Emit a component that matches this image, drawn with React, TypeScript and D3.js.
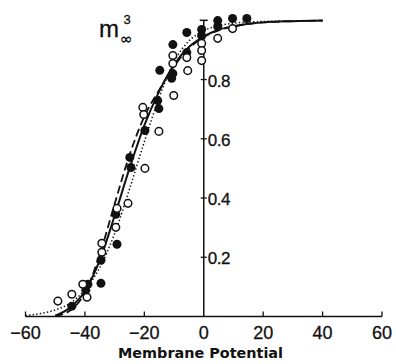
import React from "react";
import * as d3 from "d3";

// Steady-state activation m∞³ versus membrane potential (mV)
const xTicks = [-60, -40, -20, 0, 20, 40, 60];
const yTicks = [0.2, 0.4, 0.6, 0.8];

// Experimental points, filled symbols
const filledV = [-44.4, -39.7, -39.0, -34.6, -34.6, -29.2, -29.6, -24.9, -24.5, -19.8, -15.5, -15.1, -14.8, -10.4, -10.4, -10.8, -5.7, -5.7, -0.7, -0.7, 4.7, 4.7, 9.7, 14.5];
const filledM = [0.035, 0.089, 0.109, 0.112, 0.19, 0.244, 0.345, 0.537, 0.503, 0.628, 0.729, 0.702, 0.831, 0.918, 0.82, 0.804, 0.959, 0.891, 0.969, 0.948, 0.999, 0.979, 1.006, 1.006];

// Experimental points, open symbols
const openV = [-49.1, -44.4, -40.7, -39.3, -34.3, -34.3, -29.2, -29.6, -25.5, -19.8, -20.5, -20.2, -15.1, -10.1, -10.4, -10.4, -5.4, -5.7, -0.7, -0.7, -0.7, 4.7, 9.7];
const openM = [0.052, 0.075, 0.109, 0.065, 0.247, 0.217, 0.365, 0.301, 0.382, 0.5, 0.706, 0.682, 0.625, 0.746, 0.881, 0.854, 0.83, 0.874, 0.922, 0.898, 0.864, 0.939, 0.972];

// Fitted curves
const solidV = [-50, -45, -40, -35, -30, -25, -20, -15, -10, -5, 0, 5, 10, 15, 20, 30, 40];
const solidM = [0.003, 0.03, 0.085, 0.19, 0.34, 0.5, 0.645, 0.76, 0.85, 0.91, 0.945, 0.968, 0.98, 0.988, 0.993, 0.997, 0.999];

const dashedV = [-50, -45, -40, -35, -30, -25, -20, -15, -10, -5, 0, 5, 10, 20, 30, 40];
const dashedM = [0.002, 0.02, 0.08, 0.21, 0.38, 0.545, 0.675, 0.765, 0.845, 0.905, 0.944, 0.966, 0.979, 0.993, 0.997, 0.999];

const dottedV = [-60, -55, -50, -45, -40, -35, -30, -25, -20, -15, -10, -5, 0, 5, 10, 20, 30, 40];
const dottedM = [0.003, 0.01, 0.022, 0.045, 0.09, 0.165, 0.28, 0.43, 0.59, 0.74, 0.86, 0.93, 0.965, 0.982, 0.99, 0.996, 0.998, 0.999];

const W = 396;
const H = 364;
const x = d3.scaleLinear().domain([-60, 60]).range([25.5, 382]);
const y = d3.scaleLinear().domain([0, 1]).range([316.5, 20.3]);

const line = d3
  .line<[number, number]>()
  .x((d) => x(d[0]))
  .y((d) => y(d[1]))
  .curve(d3.curveMonotoneX);

const pairs = (vs: number[], ms: number[]) => vs.map((v, i) => [v, ms[i]] as [number, number]);

const ink = "#111";
const numFont = "'Liberation Sans', Arial, sans-serif";

export default function App() {
  const x0 = x(0);
  return (
    <svg
      width={W}
      height={H}
      viewBox={`0 0 ${W} ${H}`}
      style={{ position: "absolute", left: 0, top: 0, background: "#fff" }}
    >
      {/* x axis */}
      <line x1={x(-60)} x2={x(60)} y1={y(0)} y2={y(0)} stroke={ink} strokeWidth={1.3} />
      {xTicks.map((t) => (
        <g key={t}>
          {t !== 0 && (
            <line x1={x(t)} x2={x(t)} y1={y(0)} y2={y(0) - 5} stroke={ink} strokeWidth={1.3} />
          )}
          <text
            x={x(t)}
            y={339}
            textAnchor="middle"
            fontFamily={numFont}
            fontSize={18}
            fill={ink}
            stroke={ink}
            strokeWidth={0.3}
          >
            {t < 0 ? `\u2212${Math.abs(t)}` : `${t}`}
          </text>
        </g>
      ))}

      {/* y axis through 0 mV */}
      <line x1={x0} x2={x0} y1={y(0)} y2={y(1)} stroke={ink} strokeWidth={1.5} />
      <line x1={x0 - 4} x2={x0 + 4} y1={y(1)} y2={y(1)} stroke={ink} strokeWidth={1.5} />
      {yTicks.map((t) => (
        <g key={t}>
          <line x1={x0 - 3} x2={x0 + 3} y1={y(t)} y2={y(t)} stroke={ink} strokeWidth={1.3} />
          <text
            x={x0 + 4}
            y={y(t) + 7}
            fontFamily={numFont}
            fontSize={17}
            letterSpacing={-0.5}
            fill={ink}
            stroke={ink}
            strokeWidth={0.3}
          >
            {t.toFixed(1)}
          </text>
        </g>
      ))}

      {/* axis title */}
      <text
        x={118}
        y={358}
        fontFamily="'DejaVu Sans', sans-serif"
        fontSize={13.5}
        fontWeight={600}
        textLength={165}
        lengthAdjust="spacingAndGlyphs"
        fill={ink}
      >
        Membrane Potential
      </text>

      {/* quantity label m∞³ */}
      <text x={99} y={37} fontFamily={numFont} fontSize={24} fill={ink} stroke={ink} strokeWidth={0.3}>
        m
      </text>
      <text x={123.5} y={24} fontFamily={numFont} fontSize={13} fill={ink} stroke={ink} strokeWidth={0.3}>
        3
      </text>
      <text x={120} y={43.5} fontFamily="'DejaVu Sans', sans-serif" fontSize={15} fontWeight={700} fill={ink}>
        ∞
      </text>

      {/* fitted curves */}
      <path d={line(pairs(dottedV, dottedM)) || ""} fill="none" stroke={ink} strokeWidth={1.5} strokeDasharray="1.4 2.2" />
      <path d={line(pairs(dashedV, dashedM)) || ""} fill="none" stroke={ink} strokeWidth={1.8} strokeDasharray="8 4" />
      <path d={line(pairs(solidV, solidM)) || ""} fill="none" stroke={ink} strokeWidth={2} />

      {/* data */}
      {filledV.map((v, i) => (
        <circle key={`f${i}`} cx={x(v)} cy={y(filledM[i])} r={4.5} fill={ink} />
      ))}
      {openV.map((v, i) => (
        <circle key={`o${i}`} cx={x(v)} cy={y(openM[i])} r={3.8} fill="#fff" stroke={ink} strokeWidth={1.5} />
      ))}
    </svg>
  );
}
